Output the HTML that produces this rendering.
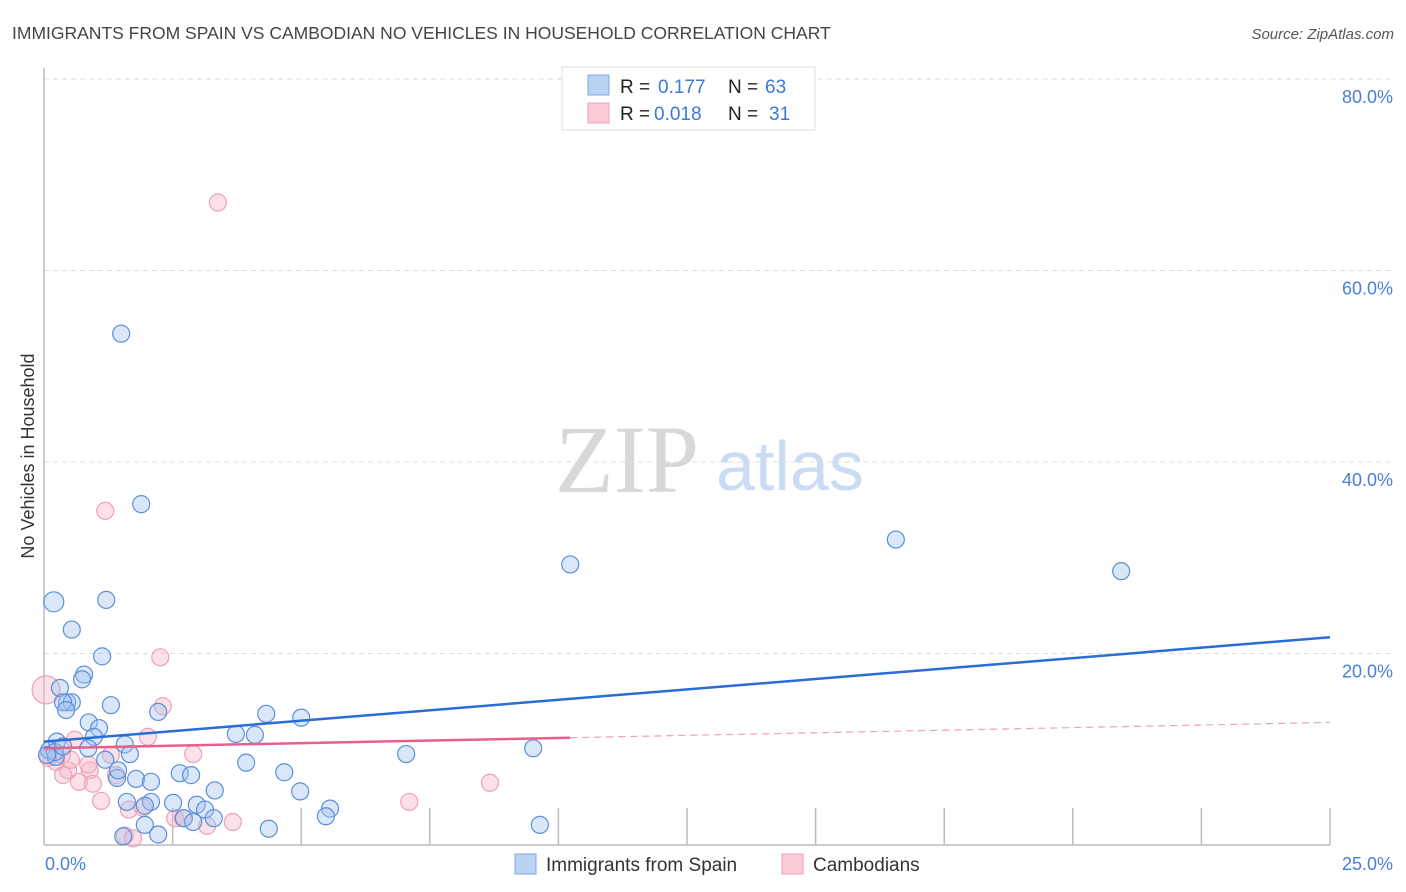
<!DOCTYPE html>
<html><head><meta charset="utf-8"><style>
body{margin:0;background:#fff;font-family:"Liberation Sans",sans-serif;}
svg{display:block}
</style></head><body>
<svg id="chart" width="1406" height="892" xmlns="http://www.w3.org/2000/svg">
<text x="12" y="39" font-size="17.5" fill="#444">IMMIGRANTS FROM SPAIN VS CAMBODIAN NO VEHICLES IN HOUSEHOLD CORRELATION CHART</text>
<text x="1394" y="39" font-size="15" fill="#555" font-style="italic" text-anchor="end">Source: ZipAtlas.com</text>
<g>
<text x="555" y="492" font-family="Liberation Serif,serif" font-size="96" fill="#d8d8d8">ZIP</text>
<text x="716" y="490" font-size="70" fill="#c9dcf4">atlas</text>
</g>
<g id="grid"></g>
<g id="axes"></g>
<g id="marks"></g>
<g>
<rect x="562" y="67" width="253" height="63" fill="#fff" stroke="#ddd"/>
<rect x="588" y="75" width="21" height="20" fill="#b9d3f5" stroke="#7ea7e0"/>
<text x="620" y="93" font-size="19" fill="#222">R = </text><text x="658" y="93" font-size="19" fill="#3d78d8">0.177</text>
<text x="728" y="93" font-size="19" fill="#222">N = </text><text x="765" y="93" font-size="19" fill="#3d78d8">63</text>
<rect x="588" y="103" width="21" height="20" fill="#fbcbd8" stroke="#eea0b6"/>
<text x="620" y="120" font-size="19" fill="#222">R = </text><text x="654" y="120" font-size="19" fill="#3d78d8">0.018</text>
<text x="728" y="120" font-size="19" fill="#222">N = </text><text x="769" y="120" font-size="19" fill="#3d78d8">31</text>
</g>
<g>
<rect x="515" y="854" width="21" height="20" fill="#b9d3f5" stroke="#7ea7e0"/>
<text x="546" y="871" font-size="19" fill="#333">Immigrants from Spain</text>
<rect x="782" y="854" width="21" height="20" fill="#fbcbd8" stroke="#eea0b6"/>
<text x="813" y="871" font-size="19" fill="#333">Cambodians</text>
</g>
<text transform="translate(34,456) rotate(-90)" font-size="18" fill="#333" text-anchor="middle">No Vehicles in Household</text>
</svg>
<script>
const yTicks=[20,40,60,80];
const xTickLabels=["0.0%","25.0%"];
const blueX=[1.50,1.89,0.19,1.21,0.54,1.13,0.78,0.74,0.31,0.45,0.54,0.37,1.30,0.87,1.07,0.25,0.97,1.57,0.86,2.22,1.67,0.10,3.93,0.23,3.73,4.10,4.32,5.00,3.32,2.64,2.86,1.79,2.08,1.42,1.61,2.08,1.96,2.51,2.97,3.13,3.30,2.72,2.90,1.96,2.22,1.54,4.37,4.98,4.67,5.56,5.48,7.04,9.51,9.64,10.23,16.56,20.94,0.21,0.06,0.37,1.44,1.19,0.43];
const blueY=[53.4,35.6,25.4,25.6,22.5,19.7,17.8,17.3,16.4,14.9,14.9,14.9,14.6,12.8,12.2,10.8,11.3,10.5,10.1,13.9,9.5,9.9,8.6,9.2,11.6,11.5,13.7,13.3,5.7,7.5,7.3,6.9,6.6,7.0,4.5,4.5,4.1,4.4,4.2,3.7,2.8,2.8,2.4,2.1,1.1,0.9,1.7,5.6,7.6,3.8,3.0,9.5,10.1,2.1,29.3,31.9,28.6,9.7,9.4,10.3,7.8,8.9,14.1];
const pinkX=[3.38,1.19,2.26,2.31,0.04,2.02,2.90,0.60,1.30,0.89,0.47,0.37,0.68,0.95,1.11,1.65,1.92,1.57,1.73,2.55,3.17,3.67,7.10,8.67,0.23,0.35,0.08,1.40,0.52,2.70,0.86];
const pinkY=[67.1,34.9,19.6,14.5,16.2,11.3,9.5,11.0,9.4,7.8,7.8,7.3,6.6,6.4,4.6,3.7,3.9,1.0,0.7,2.8,2.0,2.4,4.5,6.5,8.7,9.4,9.1,7.3,8.9,2.8,8.4];
const blueTrend=[10.8,21.7];
const pinkTrend=[10.1,12.8];
const X0=44,X1=1330,Y0=845,YTOP=79;
const sx=v=>X0+(v/25)*(X1-X0);
const sy=v=>Y0-(v/80)*(Y0-YTOP);
const NS="http://www.w3.org/2000/svg";
function mk(tag,attrs,parent){const e=document.createElementNS(NS,tag);for(const k in attrs)e.setAttribute(k,attrs[k]);document.getElementById(parent).appendChild(e);return e;}
yTicks.forEach(t=>{
 const l=mk('line',{x1:X0,x2:1394,y1:sy(t),y2:sy(t),stroke:'#ddd','stroke-dasharray':'5,4'},'grid');
 
 
 const tx=mk('text',{x:1393,y:sy(t)+24,'font-size':18,fill:'#4a7fd4','text-anchor':'end'},'grid');
 tx.textContent=t.toFixed(1)+'%';
 
 
});
const ax=mk('line',{x1:X0,x2:X0,y1:68,y2:Y0,stroke:'#bbb','stroke-width':1.5},'axes');


const bx=mk('line',{x1:X0,x2:X1,y1:Y0,y2:Y0,stroke:'#bbb','stroke-width':1.5},'axes');


for(let i=1;i<=10;i++){
 const tk=mk('line',{x1:sx(i*2.5),x2:sx(i*2.5),y1:808,y2:Y0,stroke:'#bbb','stroke-width':1.5},'axes');
 
 
}
const xl0=mk('text',{x:45,y:870,'font-size':18,fill:'#4a7fd4'},'axes');
xl0.textContent=xTickLabels[0];


const xl1=mk('text',{x:1393,y:870,'font-size':18,fill:'#4a7fd4','text-anchor':'end'},'axes');
xl1.textContent=xTickLabels[1];


pinkX.forEach((v,i)=>{
 const c=mk('circle',{cx:sx(v),cy:sy(pinkY[i]),r:(i===4?14:8.5),fill:'rgba(248,180,200,0.4)',stroke:'#eea0b6','stroke-width':1.2},'marks');
 
 
});
blueX.forEach((v,i)=>{
 const c=mk('circle',{cx:sx(v),cy:sy(blueY[i]),r:(i===2?10:8.5),fill:'rgba(160,195,240,0.4)',stroke:'#5b8fd9','stroke-width':1.2},'marks');
 
 
});
const bt=mk('line',{x1:sx(0),y1:sy(blueTrend[0]),x2:sx(25),y2:sy(blueTrend[1]),stroke:'#2a6dd6','stroke-width':2.5},'marks');


const pm=pinkTrend[0]+(pinkTrend[1]-pinkTrend[0])*(10.23/25);
const pt=mk('line',{x1:sx(0),y1:sy(pinkTrend[0]),x2:sx(10.23),y2:sy(pm),stroke:'#e8608a','stroke-width':2.5},'marks');


const pd=mk('line',{x1:sx(10.23),y1:sy(pm),x2:sx(25),y2:sy(pinkTrend[1]),stroke:'#eea0b6','stroke-width':1.2,'stroke-dasharray':'7,5'},'marks');


</script>
</body></html>
